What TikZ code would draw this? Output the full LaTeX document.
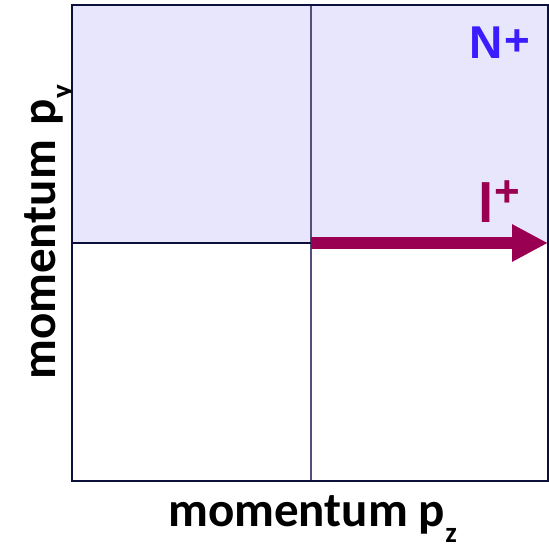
\documentclass[tikz,border=0pt]{standalone}
\usepackage{fontspec}
\setmainfont{Carlito}
\newfontfamily\arialfont{Liberation Sans}
\usetikzlibrary{arrows.meta}

\definecolor{boxnavy}{RGB}{12,16,58}
\definecolor{gridgrey}{RGB}{80,80,120}
\definecolor{regionfill}{RGB}{232,230,252}
\definecolor{nucleonblue}{RGB}{58,28,255}
\definecolor{leptonred}{RGB}{153,0,82}

% raised charge and lowered axis index
\newcommand{\charge}[1]{\raisebox{#1}{\fontsize{44}{44}\selectfont+}}
\newcommand{\axisindex}[1]{\raisebox{-16pt}{\fontsize{29}{29}\selectfont #1}}

\begin{document}
\begin{tikzpicture}[x=1pt,y=-1pt,
  axislabel/.style={font=\fontsize{49}{52}\selectfont\bfseries,inner sep=0pt,anchor=base west},
  particle/.style={font=\arialfont\bfseries,inner sep=0pt,anchor=base west}]
  \useasboundingbox (0,0) rectangle (549,549);
  % axes
  \node[axislabel] (pz) at (168,526) {momentum p\axisindex{z}};
  \node[axislabel,rotate=90] (py) at (55,380) {momentum\hspace{4pt} p\axisindex{y}};
  % momentum plane
  \coordinate (sw) at (72,481);
  \coordinate (ne) at (548,5);
  \coordinate (o) at (311,243);
  \coordinate (w) at (72,243);
  \coordinate (tip) at (548,243);
  \fill[regionfill] (72,5) rectangle (tip);
  \draw[gridgrey,line width=1.5pt] (311,5) -- (311,481);
  \draw[boxnavy,line width=2.2pt] (w) -- (o);
  \draw[boxnavy,line width=2.2pt] (sw) rectangle (ne);
  % lepton momentum
  \draw[leptonred,line width=12pt,-{Triangle[length=36pt,width=35pt]}] (o) -- (tip);
  \node[particle,text=nucleonblue,font=\arialfont\bfseries\fontsize{46}{50}\selectfont] (nucleon) at (469,58) {N\hspace{2pt}\charge{3pt}};
  \node[particle,text=leptonred,font=\arialfont\bfseries\fontsize{55}{60}\selectfont] (lepton) at (478,222) {l\hspace{1pt}\charge{16pt}};
\end{tikzpicture}
\end{document}
